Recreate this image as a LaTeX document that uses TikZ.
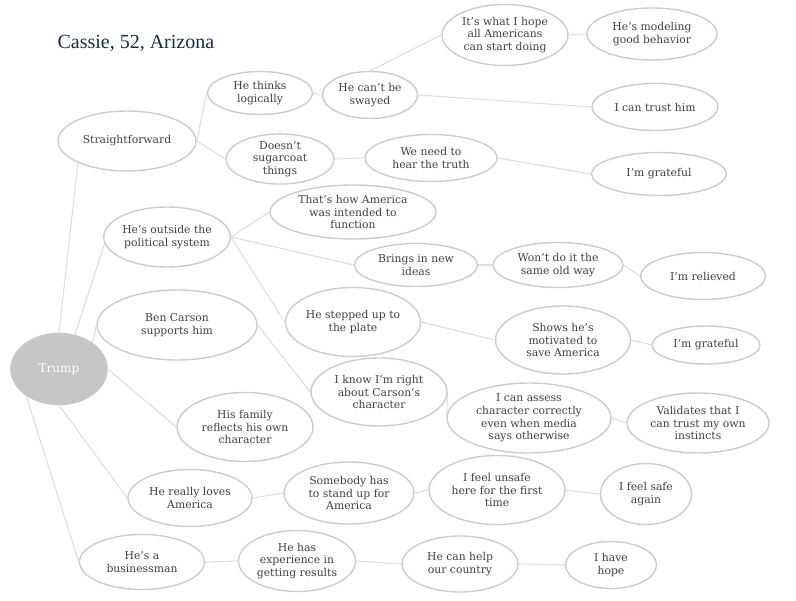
\documentclass[tikz,border=0pt]{standalone}
\usepackage{fontspec}
\setmainfont{DejaVu Serif}
\newfontfamily\titlefont{Liberation Serif}
\usetikzlibrary{shapes.geometric}
\definecolor{edgecol}{HTML}{DEDEDE}
\definecolor{bordercol}{HTML}{CCCCCC}
\definecolor{txtcol}{HTML}{404040}
\definecolor{trumpfill}{HTML}{C6C6C6}
\definecolor{titlecol}{HTML}{1B2B44}
\tikzset{
  bubble/.style={ellipse, draw=bordercol, line width=1.4pt, fill=white, inner sep=0pt,
    text=txtcol, align=center, font=\fontsize{10.8}{12.6}\selectfont},
  link/.style={draw=edgecol, line width=1.1pt},
}
\newcommand{\bub}[5]{\node[bubble, minimum width=#3pt, minimum height=#4pt] (#1) at #2 {#5};}
\begin{document}
\begin{tikzpicture}[x=1pt,y=-1pt]
\useasboundingbox (0,0) rectangle (796,601);
\node[anchor=west, text=titlecol, font=\titlefont\fontsize{20}{22}\selectfont] (title) at (54,43) {Cassie, 52, Arizona};

\node[ellipse, fill=trumpfill, draw=trumpfill, minimum width=97pt, minimum height=72pt, inner sep=0pt,
  text=white, font=\fontsize{12}{14}\selectfont] (trump) at (59,369) {Trump};

\bub{sf}{(127,141)}{138}{60}{Straightforward}
\bub{htl}{(260,93)}{105}{43}{He thinks\\logically}
\bub{sway}{(370,95)}{95}{47}{He can't be\\swayed}
\bub{hope}{(505,35)}{126}{61}{It's what I hope\\all Americans\\can start doing}
\bub{model}{(652,34)}{130}{52}{He's modeling\\good behavior}
\bub{trust}{(655,107)}{126}{47}{I can trust him}
\bub{sugar}{(280,159)}{108}{48}{Doesn't\\sugarcoat\\things}
\bub{truth}{(431,158)}{132}{47}{We need to\\hear the truth}
\bub{gratA}{(659,174)}{135}{43}{I'm grateful}
\bub{outside}{(167,237)}{114}{60}{He's outside the\\political system}
\bub{intended}{(353,212)}{166}{54}{That's how America\\was intended to\\function}
\bub{ideas}{(416,265)}{123}{43}{Brings in new\\ideas}
\bub{oldway}{(558,265)}{130}{45}{Won't do it the\\same old way}
\bub{relieved}{(703,276)}{125}{47}{I'm relieved}
\bub{carson}{(177,325)}{160}{70}{Ben Carson\\supports him}
\bub{plate}{(353,322)}{135}{69}{He stepped up to\\the plate}
\bub{motiv}{(563,340)}{135}{68}{Shows he's\\motivated to\\save America}
\bub{gratB}{(706,345)}{108}{38}{I'm grateful}
\bub{right}{(379,392)}{136}{68}{I know I'm right\\about Carson's\\character}
\bub{assess}{(529,418)}{164}{70}{I can assess\\character correctly\\even when media\\says otherwise}
\bub{valid}{(698,423)}{142}{60}{Validates that I\\can trust my own\\instincts}
\bub{family}{(245,427)}{136}{69}{His family\\reflects his own\\character}
\bub{loves}{(190,498)}{124}{57}{He really loves\\America}
\bub{stand}{(349,493)}{130}{62}{Somebody has\\to stand up for\\America}
\bub{unsafe}{(497,490)}{136}{69}{I feel unsafe\\here for the first\\time}
\bub{safe}{(646,494)}{91}{61}{I feel safe\\again}
\bub{biz}{(142,562)}{125}{55}{He's a\\businessman}
\bub{exp}{(297,561)}{117}{61}{He has\\experience in\\getting results}
\bub{help}{(460,564)}{116}{56}{He can help\\our country}
\bub{hopeful}{(611,565)}{91}{47}{I have\\hope}

% Trump edges
\draw[link] (trump.north) -- (sf.204);
\draw[link] (trump.65) -- (outside.186);
\draw[link] (trump.38) -- (carson.west);
\draw[link] (trump.east) -- (family.west);
\draw[link] (trump.south) -- (loves.west);
\draw[link] (trump.219) -- (biz.west);
% others
\draw[link] (sf.east) -- (htl.west);
\draw[link] (sf.east) -- (sugar.west);
\draw[link] (htl.east) -- (sway.west);
\draw[link] (sway.north) -- (hope.west);
\draw[link] (sway.east) -- (trust.west);
\draw[link] (hope.east) -- (model.west);
\draw[link] (sugar.east) -- (truth.west);
\draw[link] (truth.east) -- (gratA.west);
\draw[link] (outside.east) -- (intended.west);
\draw[link] (outside.east) -- (ideas.west);
\draw[link] (outside.east) -- (plate.west);
\draw[link] (ideas.east) -- (oldway.west);
\draw[link] (oldway.east) -- (relieved.west);
\draw[link] (plate.east) -- (motiv.west);
\draw[link] (motiv.east) -- (gratB.west);
\draw[link] (carson.east) -- (right.west);
\draw[link] (right.east) -- (assess.west);
\draw[link] (assess.east) -- (valid.west);
\draw[link] (loves.east) -- (stand.west);
\draw[link] (stand.east) -- (unsafe.west);
\draw[link] (unsafe.east) -- (safe.west);
\draw[link] (biz.east) -- (exp.west);
\draw[link] (exp.east) -- (help.west);
\draw[link] (help.east) -- (hopeful.west);
\end{tikzpicture}
\end{document}
